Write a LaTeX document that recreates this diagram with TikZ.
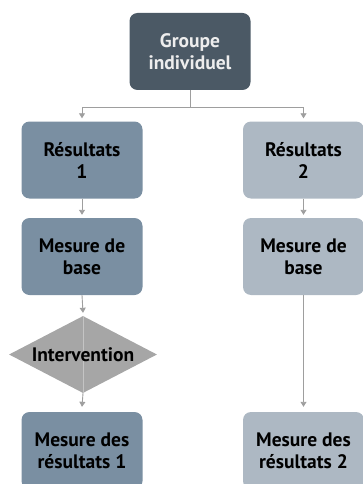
\documentclass[tikz,border=0pt]{standalone}
\usepackage{fontspec}
\setmainfont{PT Sans}
\usetikzlibrary{shapes.geometric,arrows.meta}

\definecolor{boxdark}{HTML}{4B5965}
\definecolor{boxmid}{HTML}{7A8FA2}
\definecolor{boxlight}{HTML}{ADB8C3}
\definecolor{linegray}{HTML}{9E9E9E}
\definecolor{diagray}{HTML}{A6A6A6}
\definecolor{innergray}{HTML}{C4C4C4}

\tikzset{
	labelfont/.style = {font = \fontsize{19.5}{22}\selectfont\bfseries},
	stepnode/.style = {rectangle, rounded corners = 8pt, minimum width = 121pt, minimum height = 77pt,
		align = center, labelfont, inner sep = 2pt},
	conn/.style = {draw = linegray, line width = 0.9pt, -{Triangle[length = 5pt, width = 6pt]}}
}

\begin{document}
\begin{tikzpicture}[x = 1pt, y = -1pt]
\useasboundingbox (0,0) rectangle (363,484);

\node[stepnode, fill = boxdark, text = white!93!black] (grp) at (190,51.5) {Groupe\\individuel};

\node[stepnode, fill = boxmid] (res1) at (82,160) {Résultats\\1};
\node[stepnode, fill = boxlight] (res2) at (303.5,160) {Résultats\\2};

\node[stepnode, fill = boxmid] (base1) at (82,256.5) {Mesure de\\base};
\node[stepnode, fill = boxlight] (base2) at (303.5,256.5) {Mesure de\\base};

\node[diamond, fill = diagray, minimum width = 148pt, minimum height = 77pt, inner sep = 0pt] (interv) at (83,354.5) {};

\node[stepnode, fill = boxmid] (out1) at (82,450.5) {Mesure des\\résultats 1};
\node[stepnode, fill = boxlight] (out2) at (303.5,450.5) {Mesure des\\résultats 2};

\coordinate (split) at (190,107);
\draw[conn] (grp.south) -- (split) -| ([yshift = 3pt]res1.north);
\draw[conn] (split) -| ([yshift = 3pt]res2.north);

\draw[conn] (res1.south) -- ([yshift = 3pt]base1.north);
\draw[conn] (res2.south) -- ([yshift = 3pt]base2.north);

\draw[conn] (base1.south) -- ([yshift = 3pt]interv.north);
\draw[innergray, line width = 0.9pt] (interv.north) -- (interv.south);
\draw[conn] (interv.south) -- ([yshift = 5pt]out1.north);
\draw[conn] (base2.south) -- ([yshift = 5pt]out2.north);

\node[labelfont] (intervtext) at (interv.center) {Intervention};
\end{tikzpicture}
\end{document}
